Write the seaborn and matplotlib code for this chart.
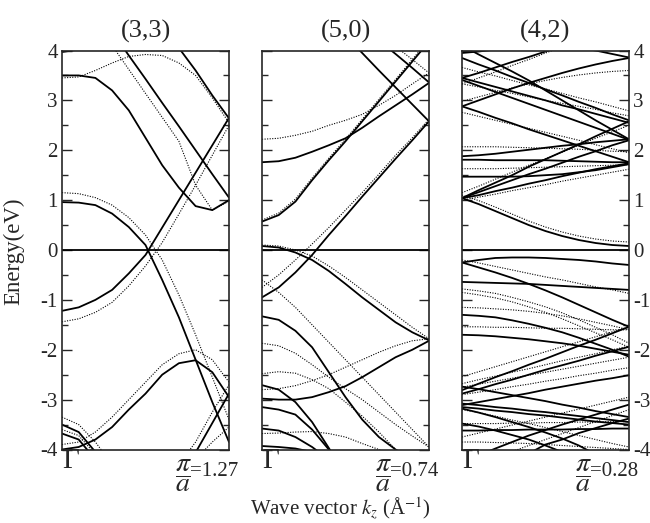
import matplotlib
matplotlib.use("Agg")
import numpy as np
import pandas as pd
import matplotlib.pyplot as plt
from matplotlib.ticker import MultipleLocator
import seaborn as sns

# k along the tube axis, as a fraction of pi/a (Gamma -> zone edge)
k_grid = [0.0, 0.1, 0.2, 0.3, 0.4, 0.5, 0.6, 0.7, 0.8, 0.9, 1.0]

titles = ["(3,3)", "(5,0)", "(4,2)"]
zone_edge = ["=1.27", "=0.74", "=0.28"]

# (3,3) tube, energies in eV read at k_grid (solid = one calc, dotted = the other)
bands_33_solid = [
    [3.97, 4.02, 4.15, 4.3, 4.5],
    [3.5, 3.5, 3.45, 3.2, 2.8, 2.25, 1.7, 1.25, 0.88, 0.8, 1.0],
    [5.8, 5.3, 4.86, 4.38, 3.9, 3.43, 2.95, 2.48, 2.0, 1.52, 1.05],
    [6.5, 6.2, 5.9, 5.6, 5.3, 4.95, 4.55, 4.05, 3.6, 3.1, 2.64],
    [0.96, 0.95, 0.9, 0.73, 0.46, 0.1, -0.6, -1.35, -2.2, -3.05, -3.85],
    [-1.22, -1.15, -1.0, -0.8, -0.47, -0.1, 0.45, 1.0, 1.55, 2.1, 2.65],
    [-4.0, -3.95, -3.8, -3.55, -3.2, -2.88, -2.5, -2.27, -2.21, -2.45, -2.95],
    [-6.5, -6.2, -5.9, -5.6, -5.3, -5.0, -4.8, -4.65, -4.06, -3.47, -2.88],
    [-3.5, -3.65, -4.05, -4.6],
    [-3.68, -3.8, -4.2, -4.8],
]
bands_33_dotted = [
    [3.45, 3.47, 3.6, 3.75, 3.88, 3.92, 3.9, 3.75, 3.5, 3.05, 2.55],
    [5.3, 4.95, 4.6, 4.1, 3.62, 3.14, 2.66, 2.18, 1.3, 0.8, 0.98],
    [1.15, 1.13, 1.05, 0.9, 0.65, 0.3, -0.2, -0.9, -1.7, -2.55, -3.4],
    [-1.44, -1.38, -1.25, -1.05, -0.72, -0.32, 0.15, 0.72, 1.3, 1.9, 2.5],
    [-3.9, -3.85, -3.65, -3.35, -3.0, -2.65, -2.3, -2.08, -2.0, -2.2, -2.65],
    [-6.5, -6.0, -5.6, -5.2, -4.9, -4.6, -4.4, -4.3, -3.85, -3.25, -2.7],
    [-3.35, -3.5, -3.85, -4.3],
    [-3.6, -3.72, -4.1, -4.6],
    [-7.0, -6.6, -6.2, -5.8, -5.4, -5.1, -4.8, -4.5, -4.2, -3.85, -3.55],
]

# (5,0) tube
bands_50_solid = [
    [0.57, 0.7, 0.97, 1.4, 1.8, 2.18, 2.58, 2.98, 3.38, 3.78, 4.18],
    [1.76, 1.78, 1.85, 1.97, 2.1, 2.24, 2.45, 2.68, 2.9, 3.12, 3.35],
    [6.0, 5.65, 5.35, 5.0, 4.65, 4.3, 3.95, 3.6, 3.26, 2.92, 2.58],
    [6.1, 5.85, 5.6, 5.3, 5.0, 4.75, 4.5, 4.2, 3.93, 3.65, 3.36],
    [-0.95, -0.75, -0.45, -0.1, 0.3, 0.68, 1.07, 1.45, 1.83, 2.2, 2.58],
    [0.08, 0.05, -0.05, -0.2, -0.42, -0.68, -0.95, -1.2, -1.45, -1.65, -1.81],
    [-1.33, -1.4, -1.62, -1.95, -2.45, -2.95, -3.4, -3.75, -4.0, -4.2, -4.3],
    [-2.98, -3.0, -3.0, -2.95, -2.85, -2.73, -2.55, -2.35, -2.15, -2.0, -1.82],
    [-2.71, -2.8, -3.05, -3.45, -3.97, -4.5],
    [-3.15, -3.2, -3.3, -3.6, -4.0, -4.4],
    [-3.58, -3.62, -3.75, -3.95, -4.2],
    [-3.93, -3.95, -3.98, -4.05],
]
bands_50_dotted = [
    [0.6, 0.74, 1.02, 1.44, 1.84, 2.22, 2.62, 3.02, 3.42, 3.82, 4.22],
    [2.22, 2.24, 2.3, 2.38, 2.5, 2.6, 2.72, 2.9, 3.1, 3.33, 3.55],
    [6.2, 5.95, 5.7, 5.45, 5.2, 4.95, 4.65, 4.35, 4.08, 3.82, 3.55],
    [-0.75, -0.5, -0.2, 0.12, 0.45, 0.8, 1.15, 1.52, 1.9, 2.25, 2.62],
    [0.1, 0.08, 0.0, -0.12, -0.32, -0.55, -0.8, -1.05, -1.3, -1.55, -1.78],
    [-0.6, -0.85, -1.15, -1.5, -1.85, -2.2, -2.55, -2.9, -3.25, -3.6, -3.95],
    [-1.87, -1.92, -2.07, -2.3, -2.55, -2.78, -3.0, -3.25, -3.5, -3.73, -3.95],
    [-2.48, -2.44, -2.47, -2.6, -2.78, -3.05, -3.33, -3.65, -4.0, -4.3],
    [-2.8, -2.78, -2.72, -2.62, -2.5, -2.35, -2.2, -2.05, -1.92, -1.82, -1.78],
    [-3.68, -3.67, -3.65, -3.64, -3.68, -3.75, -3.88, -4.0, -4.2],
]

# (4,2) tube
bands_42_solid = [
    [1.04, 0.92, 0.78, 0.64, 0.5, 0.38, 0.28, 0.2, 0.14, 0.1, 0.08],
    [1.04, 1.2, 1.35, 1.5, 1.67, 1.82, 1.97, 2.12, 2.28, 2.43, 2.58],
    [1.04, 1.16, 1.28, 1.4, 1.52, 1.63, 1.75, 1.87, 1.98, 2.1, 2.2],
    [1.04, 1.1, 1.18, 1.25, 1.33, 1.4, 1.48, 1.55, 1.62, 1.68, 1.74],
    [1.47, 1.47, 1.47, 1.47, 1.48, 1.5, 1.52, 1.56, 1.6, 1.66, 1.72],
    [1.81, 1.81, 1.8, 1.8, 1.8, 1.8, 1.79, 1.78, 1.77, 1.76, 1.76],
    [1.88, 1.9, 1.93, 1.97, 2.01, 2.05, 2.09, 2.12, 2.16, 2.19, 2.22],
    [2.88, 2.77, 2.65, 2.54, 2.42, 2.31, 2.2, 2.09, 1.98, 1.87, 1.76],
    [2.88, 3.0, 3.12, 3.24, 3.35, 3.45, 3.55, 3.64, 3.72, 3.79, 3.85],
    [3.41, 3.29, 3.17, 3.05, 2.93, 2.81, 2.69, 2.57, 2.45, 2.33, 2.21],
    [3.45, 3.36, 3.27, 3.18, 3.09, 3.0, 2.9, 2.82, 2.73, 2.64, 2.55],
    [3.45, 3.55, 3.66, 3.77, 3.87, 3.98, 4.08, 4.18],
    [3.85, 3.72, 3.6, 3.47, 3.35, 3.22, 3.1, 2.97, 2.85, 2.72, 2.6],
    [4.1, 3.92, 3.75, 3.58, 3.4, 3.2, 3.0, 2.8, 2.6, 2.41, 2.22],
    [3.95, 3.98, 4.02, 4.06],
    [4.4, 4.35, 4.3, 4.25, 4.2, 4.15, 4.1, 4.05, 4.0, 3.93, 3.86],
    [-0.25, -0.2, -0.16, -0.15, -0.15, -0.16, -0.18, -0.2, -0.23, -0.27, -0.3],
    [-0.25, -0.35, -0.45, -0.56, -0.68, -0.81, -0.95, -1.1, -1.25, -1.4, -1.54],
    [-0.64, -0.65, -0.66, -0.67, -0.68, -0.7, -0.72, -0.74, -0.76, -0.78, -0.8],
    [-1.3, -1.32, -1.35, -1.41, -1.48, -1.56, -1.65, -1.76, -1.88, -2.0, -2.14],
    [-1.7, -1.71, -1.73, -1.76, -1.79, -1.83, -1.87, -1.92, -1.98, -2.04, -2.1],
    [-2.81, -2.68, -2.55, -2.43, -2.3, -2.18, -2.05, -1.92, -1.8, -1.67, -1.54],
    [-2.88, -2.79, -2.69, -2.6, -2.5, -2.4, -2.31, -2.22, -2.12, -2.03, -1.94],
    [-3.11, -3.05, -2.99, -2.93, -2.87, -2.8, -2.74, -2.68, -2.62, -2.57, -2.51],
    [-3.08, -3.11, -3.15, -3.18, -3.22, -3.25, -3.29, -3.33, -3.37, -3.41, -3.45],
    [-3.15, -3.18, -3.22, -3.25, -3.29, -3.32, -3.36, -3.4, -3.44, -3.47, -3.5],
    [-2.74, -2.79, -2.85, -2.91, -2.97, -3.03, -3.1, -3.16, -3.23, -3.29, -3.35],
    [-3.48, -3.54, -3.62, -3.71, -3.8, -3.92, -4.05, -4.18],
    [-4.25, -4.12, -3.98, -3.85, -3.72, -3.61, -3.5, -3.4, -3.3, -3.2, -3.1],
    [-3.62, -3.62, -3.61, -3.61, -3.6, -3.6, -3.6, -3.59, -3.59, -3.58, -3.58],
    [-4.65, -4.52, -4.38, -4.25, -4.08, -3.9, -3.8, -3.67, -3.57, -3.47, -3.38],
    [-3.18, -3.26, -3.35, -3.45, -3.55, -3.66, -3.78, -3.92, -4.1, -4.25],
]
bands_42_dotted = [
    [1.0, 1.06, 1.12, 1.19, 1.25, 1.31, 1.38, 1.44, 1.5, 1.56, 1.62],
    [1.63, 1.63, 1.63, 1.64, 1.65, 1.66, 1.67, 1.68, 1.69, 1.7, 1.71],
    [2.07, 2.07, 2.07, 2.06, 2.05, 2.04, 2.03, 2.02, 2.0, 1.98, 1.97],
    [2.76, 2.68, 2.6, 2.52, 2.44, 2.36, 2.28, 2.2, 2.11, 2.03, 1.95],
    [3.33, 3.27, 3.2, 3.14, 3.07, 3.0, 2.94, 2.88, 2.82, 2.75, 2.69],
    [3.33, 3.45, 3.57, 3.7, 3.82, 3.95, 4.07, 4.2],
    [3.66, 3.57, 3.49, 3.4, 3.31, 3.23, 3.14, 3.05, 2.97, 2.88, 2.79],
    [1.1, 0.99, 0.86, 0.72, 0.58, 0.46, 0.36, 0.28, 0.22, 0.18, 0.16],
    [2.98, 3.07, 3.16, 3.25, 3.33, 3.4, 3.46, 3.51, 3.55, 3.58, 3.6],
    [1.15, 1.28, 1.42, 1.56, 1.7, 1.83, 1.96, 2.1, 2.24, 2.37, 2.5],
    [-0.2, -0.26, -0.33, -0.4, -0.47, -0.54, -0.6, -0.67, -0.74, -0.8, -0.87],
    [-0.78, -0.82, -0.87, -0.95, -1.04, -1.14, -1.26, -1.4, -1.55, -1.7, -1.87],
    [-0.85, -0.9, -0.96, -1.04, -1.14, -1.25, -1.38, -1.52, -1.66, -1.8, -1.95],
    [-1.54, -1.54, -1.55, -1.55, -1.56, -1.57, -1.57, -1.58, -1.59, -1.6, -1.6],
    [-2.54, -2.44, -2.34, -2.24, -2.14, -2.04, -1.94, -1.84, -1.74, -1.64, -1.54],
    [-2.68, -2.6, -2.53, -2.45, -2.38, -2.3, -2.22, -2.15, -2.08, -2.0, -1.93],
    [-2.75, -2.69, -2.63, -2.57, -2.51, -2.45, -2.39, -2.33, -2.27, -2.21, -2.15],
    [-2.9, -2.85, -2.8, -2.74, -2.69, -2.63, -2.58, -2.52, -2.47, -2.41, -2.36],
    [-3.48, -3.48, -3.48, -3.47, -3.47, -3.46, -3.46, -3.45, -3.45, -3.44, -3.44],
    [-3.75, -3.67, -3.59, -3.51, -3.43, -3.35, -3.27, -3.19, -3.11, -3.03, -2.95],
    [-3.2, -3.26, -3.33, -3.41, -3.48, -3.56, -3.64, -3.72, -3.8, -3.88, -3.95],
    [-4.4, -4.28, -4.16, -4.04, -3.92, -3.8, -3.68, -3.56, -3.44, -3.32, -3.2],
    [-3.85, -3.85, -3.86, -3.87, -3.88, -3.9, -3.92, -3.94, -3.96, -3.98, -4.0],
    [-1.15, -1.16, -1.18, -1.2, -1.23, -1.27, -1.32, -1.38, -1.45, -1.52, -1.6],
]


def long_frame(bands):
    rows = []
    for i, band in enumerate(bands):
        for k, e in zip(k_grid, band):
            rows.append((k, e, i))
    return pd.DataFrame(rows, columns=["k", "E", "band"])


panels = [(bands_33_solid, bands_33_dotted),
          (bands_50_solid, bands_50_dotted),
          (bands_42_solid, bands_42_dotted)]

sns.set_style("ticks")
plt.rcParams["font.family"] = ["Liberation Serif", "DejaVu Serif"]
plt.rcParams["mathtext.fontset"] = "stix"
plt.rcParams["axes.unicode_minus"] = False

fig = plt.figure(figsize=(6.5, 5.23), dpi=100)
W, H = 650, 523
lefts = [62, 262, 462]

for i, (solid, dotted) in enumerate(panels):
    ax = fig.add_axes([lefts[i] / W, (H - 449.5) / H, 167 / W, 399 / H])
    sns.lineplot(data=long_frame(dotted), x="k", y="E", units="band", estimator=None,
                 sort=False, color="k", lw=0.8, linestyle=(0, (1, 1.3)), ax=ax, legend=False)
    sns.lineplot(data=long_frame(solid), x="k", y="E", units="band", estimator=None,
                 sort=False, color="k", lw=1.3, ax=ax, legend=False)
    ax.axhline(0, color="k", lw=1.3)

    ax.set_xlim(0, 1)
    ax.set_ylim(-4, 4)
    ax.set_xticks([])
    ax.set_yticks(range(-4, 5))
    ax.yaxis.set_minor_locator(MultipleLocator(0.5))
    ax.tick_params(axis="y", which="both", direction="in", left=True, right=True,
                   labelleft=(i == 0), labelright=(i == 2), labelsize=15, pad=3)
    ax.tick_params(axis="y", which="major", length=7, width=1)
    ax.tick_params(axis="y", which="minor", length=4, width=1)
    for s in ax.spines.values():
        s.set_linewidth(1.2)
    ax.set_xlabel("")
    ax.set_ylabel("")
    ax.set_title(titles[i], fontsize=19, pad=9)

    ax.text(0.0, -0.028, "Γ", transform=ax.transAxes, ha="left", va="center", fontsize=21)
    ax.text(0.73, -0.066, r"$\dfrac{\pi}{a}$", transform=ax.transAxes,
            ha="center", va="center", fontsize=20)
    ax.text(0.766, -0.056, zone_edge[i], transform=ax.transAxes,
            ha="left", va="center", fontsize=15)

fig.text(14 / W, 1 - 251 / H, "Energy(eV)", rotation=90, ha="center", va="center", fontsize=16.5)
fig.text(250 / W, 1 - 508 / H, r"Wave vector $k_z$ (Å$^{-1}$)", ha="left", va="center", fontsize=15)

fig.savefig("out.png", dpi=100)
